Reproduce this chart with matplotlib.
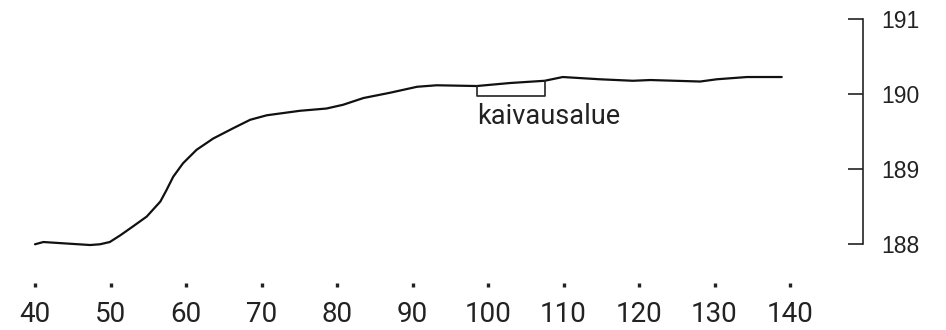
import numpy as np
import matplotlib
matplotlib.use("Agg")
import matplotlib.pyplot as plt

# terrain profile, distance (m) vs. elevation (m a.s.l.)
profile_x = [40.0, 41.1, 44.2, 47.3, 48.6, 49.9, 51.3, 53.0, 54.8, 56.6,
             57.4, 58.3, 59.6, 61.4, 63.6, 66.3, 68.5, 70.7, 75.1, 78.6,
             80.8, 83.5, 87.0, 90.6, 93.2, 98.5, 102.9, 107.5, 109.9,
             114.8, 119.2, 121.5, 128.1, 130.3, 134.3, 138.9]
profile_y = [187.99, 188.02, 188.00, 187.98, 187.99, 188.02, 188.11, 188.23,
             188.36, 188.56, 188.71, 188.89, 189.07, 189.25, 189.40, 189.54,
             189.65, 189.71, 189.77, 189.80, 189.85, 189.94, 190.01, 190.09,
             190.11, 190.10, 190.14, 190.17, 190.22, 190.19, 190.17, 190.18,
             190.16, 190.19, 190.22, 190.22]

# excavation area
area_x = [98.6, 107.6]
area_bottom = 189.97
area_label = "kaivausalue"

x_ticks = [40, 50, 60, 70, 80, 90, 100, 110, 120, 130, 140]
y_ticks = [188, 189, 190, 191]

fig = plt.figure(figsize=(9.46, 3.3), dpi=100)
ax = fig.add_axes([0, 0, 1, 1])
ax.set_xlim(35.36, 160.66)
ax.set_ylim(186.847, 191.247)

ax.plot(profile_x, profile_y, color="#111111", lw=1.6,
        solid_joinstyle="round", solid_capstyle="round")

# box outline hanging under the ground line
top0, top1 = np.interp(area_x, profile_x, profile_y)
ax.plot([area_x[0], area_x[0], area_x[1], area_x[1]],
        [top0, area_bottom, area_bottom, top1], color="#222222", lw=1.2)
ax.text(area_x[0], 189.60, area_label, fontsize=19.5, family="Roboto",
        color="#222222", ha="left", va="baseline")

for s in ["top", "left"]:
    ax.spines[s].set_visible(False)

# elevation scale on the right
ax.spines["right"].set_position(("data", 149.67))
ax.spines["right"].set_bounds(188, 191)
ax.spines["right"].set_linewidth(1.2)
ax.spines["right"].set_color("#222222")
ax.yaxis.tick_right()
ax.set_yticks(y_ticks)
ax.tick_params(axis="y", direction="in", length=11, width=1.2, pad=13,
               labelsize=16.5, colors="#222222")
for lab in ax.get_yticklabels():
    lab.set_family("Liberation Sans")

# distance scale: dots with numbers below
ax.spines["bottom"].set_position(("data", 187.447))
ax.spines["bottom"].set_visible(False)
ax.set_xticks(x_ticks)
ax.tick_params(axis="x", direction="inout", length=2.4, width=2.4, pad=10,
               labelsize=20, colors="#222222")
for lab in ax.get_xticklabels():
    lab.set_family("Roboto")

fig.savefig("out.png", dpi=100)
